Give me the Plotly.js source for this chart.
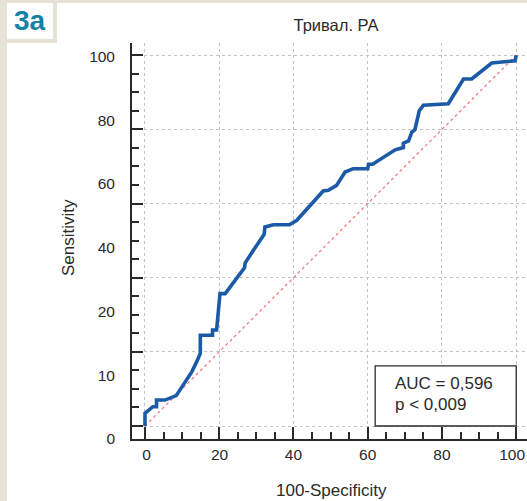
<!DOCTYPE html>
<html>
<head>
<meta charset="utf-8">
<script src="https://cdn.plot.ly/plotly-3.0.1.min.js"></script>
<style>
html,body{margin:0;padding:0;background:#e8e1d8;}
#chart{width:527px;height:501px;}
</style>
</head>
<body>
<div id="chart"></div>
<script>
// ROC curve (100-Specificity, Sensitivity)
const rocX = [0, 0, 2.1, 3.1, 3.1, 5.4, 8.4, 10.3, 12.6, 13.9, 14.9, 14.9, 18.2, 18.2, 19.3, 20.2, 21.6, 26.8, 27.0, 29.2, 32.1, 32.3, 34.6, 38.9, 40.9, 48.0, 49.4, 51.6, 53.9, 56.1, 60.0, 60.2, 61.3, 67.4, 69.6, 69.6, 71.0, 71.9, 72.7, 73.9, 75.0, 81.7, 85.8, 88.0, 93.4, 99.7, 100];
const rocY = [0, 3.4, 5.2, 5.2, 7.0, 7.0, 8.2, 11.0, 14.6, 17.3, 19.6, 24.5, 24.5, 25.9, 25.9, 35.7, 35.7, 42.7, 44.0, 47.4, 51.7, 53.7, 54.3, 54.3, 55.5, 63.4, 63.6, 64.9, 68.5, 69.4, 69.4, 70.6, 70.6, 74.5, 75.1, 76.3, 76.9, 79.3, 79.9, 85.1, 86.5, 86.9, 93.6, 93.6, 97.9, 98.5, 100];
const diagX = [0, 100];
const diagY = [0, 100];
// tick labels as printed in the reference
const xTickText = ['0', '20', '40', '60', '80', '100'];
const yTickText = ['0', '10', '20', '40', '60', '80', '100'];
const chartTitle = 'Тривал. РА';
const xTitle = '100-Specificity';
const yTitle = 'Sensitivity';
const panelLabel = '3а';
const statLines = ['AUC = 0,596', 'p < 0,009'];

const W = 527, H = 501;
const M = {l: 132, r: 0, t: 43, b: 62};
const pw = W - M.l - M.r, ph = H - M.t - M.b;
const px = v => (v - M.l) / pw;
const py = v => (H - M.b - v) / ph;

// where the printed labels sit (axis units)
const xLabelPos = [0.4, 20.1, 40, 60, 80, 98.9];
const yLabelPos = [-3.45, 13.7, 30.9, 48.1, 65.3, 82.5, 99.7];

const fontFam = 'Liberation Sans, Arial, sans-serif';
const ink = '#2a2a2a';

const traces = [
  {x: diagX, y: diagY, mode: 'lines', line: {color: '#f2707e', width: 1.2, dash: 'dot'}, hoverinfo: 'skip', showlegend: false},
  {x: rocX, y: rocY, mode: 'lines', line: {color: '#1a5aa6', width: 3.6}, showlegend: false},
  {x: [null], y: [null], yaxis: 'y2', showlegend: false, hoverinfo: 'skip'},
  {x: [null], y: [null], xaxis: 'x2', showlegend: false, hoverinfo: 'skip'}
];

const layout = {
  width: W, height: H,
  margin: {l: M.l, r: M.r, t: M.t, b: M.b, autoexpand: false},
  paper_bgcolor: '#e8e1d8',
  plot_bgcolor: '#ffffff',
  font: {family: fontFam, color: ink},
  title: {text: chartTitle, font: {size: 16.5, color: ink}, xref: 'container', yref: 'container', x: 336 / W, xanchor: 'center', y: 1 - 25 / H, yanchor: 'middle'},
  xaxis: {
    range: [-3.5, 102.9], tickmode: 'linear', tick0: 0, dtick: 20,
    ticks: 'inside', ticklen: 12, tickwidth: 2, tickcolor: ink,
    showline: true, linecolor: ink, linewidth: 2, zeroline: false,
    showgrid: true, gridcolor: '#c4c4c4', griddash: 'dot', gridwidth: 1,
    minor: {dtick: 5, tick0: 0, ticks: 'inside', ticklen: 7, tickwidth: 2, tickcolor: ink, showgrid: false},
    showticklabels: false,
    automargin: false, fixedrange: true
  },
  xaxis2: {
    overlaying: 'x', side: 'bottom', anchor: 'y',
    range: [-3.5, 102.9], tickmode: 'array', tickvals: xLabelPos, ticktext: xTickText,
    ticks: '', showgrid: false, zeroline: false, showline: false,
    tickfont: {size: 15.5, color: ink}, ticklabelstandoff: 4, ticklabeloverflow: 'allow',
    automargin: false, fixedrange: true
  },
  yaxis: {
    range: [-3.5, 103.3], tickmode: 'linear', tick0: 0, dtick: 20,
    ticks: 'inside', ticklen: 11, tickwidth: 2, tickcolor: ink,
    showline: true, linecolor: ink, linewidth: 2, zeroline: false,
    showgrid: true, gridcolor: '#c4c4c4', griddash: 'dot', gridwidth: 1,
    minor: {dtick: 5, tick0: 0, ticks: 'inside', ticklen: 7, tickwidth: 2, tickcolor: ink, showgrid: false},
    showticklabels: false,
    automargin: false, fixedrange: true
  },
  yaxis2: {
    overlaying: 'y', side: 'left', anchor: 'x',
    range: [-3.5, 103.3], tickmode: 'array', tickvals: yLabelPos, ticktext: yTickText,
    ticks: '', showgrid: false, zeroline: false, showline: false,
    tickfont: {size: 15.5, color: ink}, ticklabelstandoff: 16, ticklabeloverflow: 'allow',
    automargin: false, fixedrange: true
  },
  shapes: [
    {type: 'rect', xref: 'paper', yref: 'paper', x0: px(7), x1: px(53), y0: py(39), y1: py(3), fillcolor: '#ffffff', line: {width: 0}, layer: 'below'},
    {type: 'rect', xref: 'paper', yref: 'paper', x0: px(57), x1: px(527), y0: py(501), y1: py(3), fillcolor: '#ffffff', line: {width: 0}, layer: 'below'},
    {type: 'rect', xref: 'paper', yref: 'paper', x0: px(7), x1: px(58), y0: py(501), y1: py(43), fillcolor: '#ffffff', line: {width: 0}, layer: 'below'},
    {type: 'rect', xref: 'x', yref: 'y', x0: 62, x1: 100, y0: 0, y1: 16.2, fillcolor: '#ffffff', line: {color: ink, width: 1.3}, layer: 'above'}
  ],
  annotations: [
    {text: '<b>' + panelLabel + '</b>', xref: 'paper', yref: 'paper', x: px(30), y: py(21), xanchor: 'center', yanchor: 'middle', showarrow: false, font: {size: 28, color: '#1682a3', family: fontFam}},
    {text: statLines[0], xref: 'x', yref: 'y', x: 66.8, y: 11.45, xanchor: 'left', yanchor: 'middle', showarrow: false, font: {size: 17, color: ink}},
    {text: statLines[1], xref: 'x', yref: 'y', x: 66.8, y: 5.9, xanchor: 'left', yanchor: 'middle', showarrow: false, font: {size: 17, color: ink}},
    {text: xTitle, xref: 'paper', yref: 'paper', x: px(331), y: py(490), xanchor: 'center', yanchor: 'middle', showarrow: false, font: {size: 17, color: ink}},
    {text: yTitle, xref: 'paper', yref: 'paper', x: px(68), y: py(238), xanchor: 'center', yanchor: 'middle', textangle: -90, showarrow: false, font: {size: 17, color: ink}}
  ]
};

Plotly.newPlot('chart', traces, layout, {displayModeBar: false, staticPlot: true});
</script>
</body>
</html>
